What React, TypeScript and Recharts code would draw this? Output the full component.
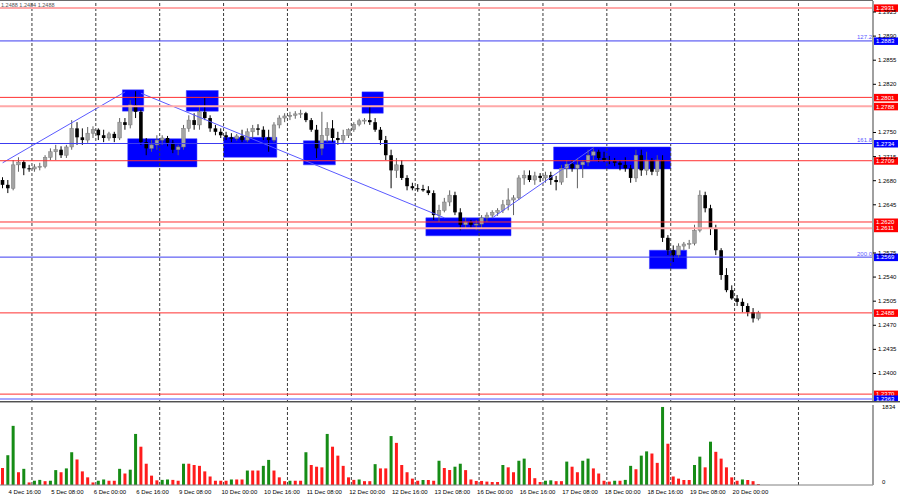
import React from "react";
import {
  ComposedChart,
  Bar,
  XAxis,
  YAxis,
  ReferenceLine,
  ReferenceArea,
  Cell,
} from "recharts";

const FONT = '"Liberation Sans", Arial, sans-serif';

// trading days on the H2 grid (4 Dec starts at 12:00, 24 Dec is empty space)
const days = [
  "4 Dec", "5 Dec", "6 Dec", "9 Dec", "10 Dec", "11 Dec", "12 Dec", "13 Dec",
  "16 Dec", "17 Dec", "18 Dec", "19 Dec", "20 Dec", "23 Dec", "24 Dec",
];

const open = [
  1.2681, 1.2674, 1.2669, 1.2703, 1.2707, 1.2698, 1.2697, 1.27, 1.2701, 1.2714,
  1.2722, 1.2725, 1.2717, 1.2729, 1.2756, 1.2743, 1.2739, 1.2749, 1.2754, 1.2746,
  1.2742, 1.2748, 1.2742, 1.2765, 1.2761, 1.279, 1.278, 1.2736, 1.2727, 1.2732,
  1.2739, 1.2742, 1.2735, 1.2725, 1.2729, 1.2756, 1.2768, 1.2761, 1.278, 1.2771,
  1.2756, 1.2751, 1.2746, 1.2743, 1.2741, 1.2745, 1.2739, 1.2751, 1.2756, 1.2754,
  1.2743, 1.2739, 1.2761, 1.2771, 1.2774, 1.2775, 1.2777, 1.2778, 1.2768, 1.2754,
  1.2727, 1.2746, 1.2756, 1.2742, 1.2739, 1.2746, 1.2754, 1.2762, 1.2767, 1.2768,
  1.2765, 1.2754, 1.2739, 1.2717, 1.2695, 1.2703, 1.2684, 1.2672, 1.2669, 1.2668,
  1.2666, 1.2662, 1.263, 1.2637, 1.2649, 1.2659, 1.2634, 1.2616, 1.262, 1.2616,
  1.2617, 1.2626, 1.263, 1.2634, 1.2637, 1.2645, 1.2652, 1.2655, 1.2684, 1.2688,
  1.2681, 1.2687, 1.2684, 1.2688, 1.2681, 1.2678, 1.2698, 1.2704, 1.2698, 1.2703,
  1.2707, 1.2717, 1.2722, 1.2713, 1.271, 1.2709, 1.2706, 1.2703, 1.2698, 1.2684,
  1.2717, 1.2695, 1.271, 1.2693, 1.271, 1.2597, 1.2579, 1.2572, 1.2585, 1.2588,
  1.2589, 1.2608, 1.2659, 1.264, 1.2611, 1.2579, 1.2543, 1.2521, 1.2509, 1.2504,
  1.2498, 1.2489, 1.248,
];

const high = [
  1.2685, 1.2681, 1.271, 1.2714, 1.271, 1.2703, 1.2704, 1.2706, 1.2717, 1.2727,
  1.2732, 1.273, 1.2732, 1.2768, 1.2765, 1.2756, 1.2758, 1.2759, 1.2756, 1.2754,
  1.2751, 1.2751, 1.2771, 1.2771, 1.2797, 1.281, 1.2783, 1.2742, 1.2739, 1.2746,
  1.2746, 1.2745, 1.2739, 1.2732, 1.2761, 1.2775, 1.2778, 1.279, 1.28, 1.2775,
  1.2761, 1.2756, 1.2751, 1.2749, 1.2748, 1.2754, 1.2756, 1.2761, 1.2762, 1.2759,
  1.2754, 1.2765, 1.2775, 1.2778, 1.278, 1.2781, 1.2783, 1.278, 1.2771, 1.2761,
  1.278, 1.2765, 1.2768, 1.2751, 1.2754, 1.2756, 1.2765, 1.277, 1.2771, 1.2789,
  1.2771, 1.2758, 1.2745, 1.2725, 1.2713, 1.271, 1.2688, 1.2677, 1.2675, 1.2674,
  1.2672, 1.2666, 1.2645, 1.2655, 1.2666, 1.2664, 1.264, 1.2626, 1.2623, 1.2623,
  1.263, 1.2634, 1.2637, 1.264, 1.2652, 1.2669, 1.2659, 1.2688, 1.2695, 1.2695,
  1.2693, 1.2691, 1.2693, 1.2693, 1.2687, 1.2703, 1.271, 1.271, 1.2713, 1.271,
  1.2725, 1.2727, 1.2725, 1.2722, 1.2716, 1.2713, 1.271, 1.2714, 1.2703, 1.2725,
  1.2725, 1.2722, 1.2713, 1.2717, 1.2717, 1.2601, 1.2586, 1.2589, 1.2591, 1.2594,
  1.2616, 1.2666, 1.2664, 1.2645, 1.2616, 1.2582, 1.2553, 1.2528, 1.2514, 1.2509,
  1.2502, 1.2495, 1.2491,
];

const low = [
  1.2669, 1.2662, 1.2666, 1.2693, 1.2688, 1.2693, 1.2693, 1.2695, 1.2698, 1.271,
  1.271, 1.2713, 1.2713, 1.2725, 1.2732, 1.2732, 1.2735, 1.2742, 1.2739, 1.2736,
  1.2738, 1.2736, 1.2739, 1.2754, 1.2756, 1.2771, 1.2732, 1.2717, 1.2722, 1.2725,
  1.2732, 1.273, 1.272, 1.2717, 1.2725, 1.2751, 1.2754, 1.2754, 1.2768, 1.2751,
  1.2746, 1.2742, 1.2739, 1.2736, 1.2738, 1.2736, 1.2736, 1.2742, 1.2746, 1.2739,
  1.2722, 1.2736, 1.2756, 1.2765, 1.2768, 1.277, 1.2771, 1.2765, 1.2751, 1.2713,
  1.2717, 1.2736, 1.2736, 1.2732, 1.2735, 1.2742, 1.2751, 1.2759, 1.2762, 1.2761,
  1.2751, 1.2732, 1.271, 1.2669, 1.2684, 1.2681, 1.2666, 1.2666, 1.2664, 1.2664,
  1.2659, 1.2623, 1.262, 1.2634, 1.2643, 1.263, 1.2608, 1.2611, 1.2611, 1.2608,
  1.2611, 1.262, 1.2626, 1.2629, 1.2633, 1.2637, 1.263, 1.2652, 1.2674, 1.2678,
  1.2674, 1.2678, 1.2677, 1.2674, 1.2666, 1.2674, 1.2684, 1.2693, 1.2669, 1.2684,
  1.2701, 1.271, 1.2707, 1.2707, 1.2704, 1.2701, 1.2695, 1.2693, 1.2677, 1.2678,
  1.2687, 1.2688, 1.2688, 1.2687, 1.2591, 1.2572, 1.2562, 1.2568, 1.2579, 1.2581,
  1.2586, 1.2605, 1.2634, 1.2601, 1.2572, 1.2536, 1.2518, 1.2507, 1.2498, 1.2489,
  1.2483, 1.2474, 1.2477,
];

const close = [
  1.2674, 1.2669, 1.2703, 1.2707, 1.2698, 1.2697, 1.27, 1.2701, 1.2714, 1.2722,
  1.2725, 1.2717, 1.2729, 1.2756, 1.2743, 1.2739, 1.2749, 1.2754, 1.2746, 1.2742,
  1.2748, 1.2742, 1.2765, 1.2761, 1.279, 1.278, 1.2736, 1.2727, 1.2732, 1.2739,
  1.2742, 1.2735, 1.2725, 1.2729, 1.2756, 1.2768, 1.2761, 1.278, 1.2771, 1.2756,
  1.2751, 1.2746, 1.2743, 1.2741, 1.2745, 1.2739, 1.2751, 1.2756, 1.2754, 1.2743,
  1.2739, 1.2761, 1.2771, 1.2774, 1.2775, 1.2777, 1.2778, 1.2768, 1.2754, 1.2727,
  1.2746, 1.2756, 1.2742, 1.2739, 1.2746, 1.2754, 1.2762, 1.2767, 1.2768, 1.2765,
  1.2754, 1.2739, 1.2717, 1.2695, 1.2703, 1.2684, 1.2672, 1.2669, 1.2668, 1.2666,
  1.2662, 1.263, 1.2637, 1.2649, 1.2659, 1.2634, 1.2616, 1.262, 1.2616, 1.2617,
  1.2626, 1.263, 1.2634, 1.2637, 1.2645, 1.2652, 1.2655, 1.2684, 1.2688, 1.2681,
  1.2687, 1.2684, 1.2688, 1.2681, 1.2678, 1.2698, 1.2704, 1.2698, 1.2703, 1.2707,
  1.2717, 1.2722, 1.2713, 1.271, 1.2709, 1.2706, 1.2703, 1.2698, 1.2684, 1.2717,
  1.2695, 1.271, 1.2693, 1.271, 1.2597, 1.2579, 1.2572, 1.2585, 1.2588, 1.2589,
  1.2608, 1.2659, 1.264, 1.2611, 1.2579, 1.2543, 1.2521, 1.2509, 1.2504, 1.2498,
  1.2489, 1.248, 1.2488,
];

const volume = [
  400, 700, 1390, 300, 380, 60, 100, 120, 90, 100,
  350, 300, 390, 770, 600, 320, 180, 60, 100, 130,
  100, 100, 380, 270, 360, 1200, 900, 500, 220, 110,
  120, 130, 120, 100, 500, 500, 470, 450, 320, 200,
  100, 100, 100, 130, 130, 130, 340, 340, 340, 450,
  590, 340, 180, 90, 100, 100, 100, 770, 470, 430,
  415, 1200, 900, 690, 450, 180, 120, 130, 90, 90,
  490, 390, 390, 1150, 990, 470, 300, 150, 100, 118,
  118, 100, 570, 400, 353, 430, 500, 350, 130, 95,
  95, 80, 70, 70, 470, 415, 300, 570, 620, 400,
  160, 70, 100, 110, 90, 90, 550, 430, 300, 570,
  620, 390, 270, 100, 80, 100, 100, 120, 450, 370,
  690, 790, 740, 520, 1834, 970, 200, 150, 118, 118,
  470, 666, 415, 1018, 780, 620, 415, 180, 100, 130,
  118, 90, 20,
];

// price scale labels that are visible (the rest sit under the level tags)
const priceTicks = [
  1.2925, 1.289, 1.2855, 1.282, 1.275, 1.2715, 1.268, 1.2645,
  1.2575, 1.254, 1.2505, 1.247, 1.2435, 1.24,
];
const volumeTicks = [0, 1834];

const timeTicks = [
  "4 Dec 16:00", "5 Dec 08:00", "6 Dec 00:00", "6 Dec 16:00", "9 Dec 08:00",
  "10 Dec 00:00", "10 Dec 16:00", "11 Dec 08:00", "12 Dec 00:00", "12 Dec 16:00",
  "13 Dec 08:00", "16 Dec 00:00", "16 Dec 16:00", "17 Dec 08:00", "18 Dec 00:00",
  "18 Dec 16:00", "19 Dec 08:00", "20 Dec 00:00",
];

// horizontal levels: red = solid red, pink = wide pale red, blue, lav = wide pale blue
const levelPrices = [
  1.2931, 1.2883, 1.2801, 1.2788, 1.2734, 1.2709, 1.262, 1.2611, 1.2569, 1.2488, 1.237, 1.2363,
];
const levelKinds = [
  "pink", "blue", "red", "pink", "blue", "red", "red", "pink", "blue", "red", "red", "lav",
];
const fibPrices = [1.2883, 1.2734, 1.2569];
const fibTags = ["127.2", "161.8", "200.0"];

// blue zones: time span and price span
const zoneFrom = [
  "6 Dec 10:00", "9 Dec 10:00", "12 Dec 04:00", "6 Dec 12:00", "10 Dec 00:00",
  "11 Dec 06:00", "13 Dec 04:00", "17 Dec 04:00", "18 Dec 16:00",
];
const zoneTo = [
  "6 Dec 16:00", "9 Dec 20:00", "12 Dec 10:00", "9 Dec 12:00", "10 Dec 18:00",
  "11 Dec 16:00", "16 Dec 10:00", "18 Dec 22:00", "19 Dec 04:00",
];
const zoneHigh = [1.2812, 1.2811, 1.2809, 1.2741, 1.2743, 1.2738, 1.2626, 1.2729, 1.2579];
const zoneLow = [1.2781, 1.2781, 1.2778, 1.27, 1.2714, 1.2703, 1.26, 1.2697, 1.2552];

// trend lines
const trendFrom = ["4 Dec 12:00", "6 Dec 16:00", "16 Dec 04:00"];
const trendFromPrice = [1.2706, 1.2807, 1.2626];
const trendTo = ["6 Dec 10:00", "13 Dec 10:00", "17 Dec 18:00"];
const trendToPrice = [1.2809, 1.2626, 1.2728];

const times: string[] = [];
days.forEach((d) => {
  const from = d === "4 Dec" ? 12 : 0;
  const to = d === "24 Dec" ? 2 : 22;
  for (let h = from; h <= to; h += 2) {
    times.push(`${d} ${String(h).padStart(2, "0")}:00`);
  }
});

const rows = times.map((t, i) => ({
  t,
  o: open[i],
  h: high[i],
  l: low[i],
  c: close[i],
  range: i < close.length ? [low[i], high[i]] : null,
  v: i < volume.length ? volume[i] : null,
}));

const midnights = days.slice(1, -1).map((d) => `${d} 00:00`);

const W = 900;
const AXIS_W = 27;

function Candle(props: any) {
  const { x, y, width, height, payload } = props;
  if (!payload || payload.o == null || !isFinite(y)) return <g />;
  const top = Math.min(y, y + height);
  const span = Math.abs(height);
  const k = payload.h > payload.l ? span / (payload.h - payload.l) : 0;
  const cx = x + width / 2;
  const up = payload.c >= payload.o;
  const bTop = top + (payload.h - Math.max(payload.o, payload.c)) * k;
  const bH = Math.max(1, Math.abs(payload.o - payload.c) * k);
  return (
    <g>
      <line x1={cx} x2={cx} y1={top} y2={top + span} stroke={up ? "#606060" : "#000"} strokeWidth={1} />
      <rect
        x={cx - 1.8}
        y={bTop}
        width={3.6}
        height={bH}
        fill={up ? "#a4a4a4" : "#000"}
        stroke={up ? "#7a7a7a" : "none"}
        strokeWidth={0.5}
      />
    </g>
  );
}

function levelTag(price: number, kind: string) {
  const fi = fibPrices.indexOf(price);
  const bg = kind === "blue" || kind === "lav" ? "#0000ff" : "#ff0000";
  return (props: any) => {
    const vb = props.viewBox || {};
    const right = (vb.x || 0) + (vb.width || 0);
    const yy = vb.y;
    return (
      <g>
        {fi >= 0 && (
          <text x={right - 1} y={yy - 1.5} textAnchor="end" fontSize={6} fill="#5a5aff" fontFamily={FONT}>
            {fibTags[fi]}
          </text>
        )}
        <rect x={right} y={yy - 3.5} width={25} height={7.5} fill={bg} />
        <text x={right + 3} y={yy + 2.3} fontSize={6} fill="#fff" fontFamily={FONT}>
          {price.toFixed(4)}
        </text>
      </g>
    );
  };
}

const levelStroke: Record<string, string> = {
  red: "#ff3030",
  pink: "#ffa8a8",
  blue: "#3c3cf0",
  lav: "#a8a8ff",
};

function PriceTick(props: any) {
  const { x, y, payload } = props;
  return (
    <text x={x} y={y + 2} fontSize={6} fill="#000" fontFamily={FONT}>
      {payload.value.toFixed(4)}
    </text>
  );
}

function VolTick(props: any) {
  const { x, y, payload } = props;
  return (
    <text x={x + 1} y={payload.value === 0 ? y - 1.5 : y + 2.5} fontSize={6} fill="#000" fontFamily={FONT}>
      {payload.value}
    </text>
  );
}

function TimeTick(props: any) {
  const { x, y, payload } = props;
  return (
    <text x={x - 4.7} y={y + 8.5} fontSize={6} fill="#000" fontFamily={FONT}>
      {payload.value}
    </text>
  );
}

function gridLines() {
  return midnights.map((m) => (
    <ReferenceLine
      key={m}
      x={m}
      position="start"
      stroke="#3a3a3a"
      strokeDasharray="3 2"
      strokeWidth={1}
    />
  ));
}

function trend(i: number) {
  return (
    <ReferenceLine
      key={"tr" + i}
      segment={[
        { x: trendFrom[i], y: trendFromPrice[i] },
        { x: trendTo[i], y: trendToPrice[i] },
      ]}
      stroke="#5a5aff"
      strokeWidth={1}
      ifOverflow="visible"
    />
  );
}

export default function App() {
  return (
    <div
      style={{
        position: "absolute",
        left: 0,
        top: 0,
        width: W,
        height: 500,
        background: "#fff",
        overflow: "hidden",
        fontFamily: FONT,
      }}
    >
      <div style={{ position: "absolute", left: 0, top: 0 }}>
        <ComposedChart
          width={W}
          height={403}
          data={rows}
          margin={{ top: 1, right: 0, bottom: 2, left: 0 }}
          barCategoryGap={0}
        >
          <XAxis dataKey="t" hide />
          <YAxis
            orientation="right"
            type="number"
            width={AXIS_W}
            domain={[1.236, 1.2941]}
            allowDataOverflow
            ticks={priceTicks}
            interval={0}
            tick={<PriceTick />}
            tickSize={3}
            tickMargin={2}
            tickLine={{ stroke: "#000" }}
            axisLine={{ stroke: "#a0a0a0", strokeWidth: 2 }}
          />
          {gridLines()}
          {trend(0)}
          {trend(1)}
          {levelPrices.map((p, i) => (
            <ReferenceLine
              key={"lv" + i}
              y={p}
              stroke={levelStroke[levelKinds[i]]}
              strokeWidth={levelKinds[i] === "pink" || levelKinds[i] === "lav" ? 2 : 1}
              ifOverflow="visible"
              label={levelTag(p, levelKinds[i])}
            />
          ))}
          {zoneFrom.map((f, i) => (
            <ReferenceArea
              key={"zn" + i}
              x1={f}
              x2={zoneTo[i]}
              y1={zoneLow[i]}
              y2={zoneHigh[i]}
              fill="#0000ff"
              fillOpacity={1}
              stroke="#3a3aff"
              strokeWidth={0.5}
              ifOverflow="visible"
            />
          ))}
          {trend(2)}
          <Bar dataKey="range" shape={Candle} isAnimationActive={false} />
        </ComposedChart>
      </div>

      <div style={{ position: "absolute", left: 0, top: 403 }}>
        <ComposedChart
          width={W}
          height={97}
          data={rows}
          margin={{ top: 2, right: 0, bottom: 0, left: 0 }}
          barCategoryGap={1}
        >
          <XAxis
            dataKey="t"
            ticks={timeTicks}
            interval={0}
            tick={<TimeTick />}
            tickLine={false}
            tickSize={0}
            tickMargin={0}
            height={15}
            axisLine={{ stroke: "#808080" }}
          />
          <YAxis
            orientation="right"
            type="number"
            width={AXIS_W}
            domain={[0, 1880]}
            allowDataOverflow
            ticks={volumeTicks}
            interval={0}
            tick={<VolTick />}
            tickLine={false}
            tickMargin={2}
            axisLine={{ stroke: "#a0a0a0", strokeWidth: 2 }}
          />
          {gridLines()}
          <Bar dataKey="v" isAnimationActive={false}>
            {volume.map((v, i) => (
              <Cell key={i} fill={i > 0 && v > volume[i - 1] ? "#168c16" : "#ff1c1c"} />
            ))}
          </Bar>
        </ComposedChart>
      </div>

      <div style={{ position: "absolute", left: 0, top: 0, width: W - AXIS_W, height: 1, background: "#6a6a6a" }} />
      <div style={{ position: "absolute", left: 0, top: 401, width: W, height: 1, background: "#505050" }} />
      <div style={{ position: "absolute", left: 0, top: 402, width: W, height: 1, background: "#b0b0b0" }} />

      <div
        style={{
          position: "absolute",
          left: 1,
          top: 1,
          fontSize: 5.5,
          lineHeight: "8px",
          color: "#555",
          whiteSpace: "nowrap",
        }}
      >
        1.2488 1.2484 1.2488
      </div>
    </div>
  );
}
